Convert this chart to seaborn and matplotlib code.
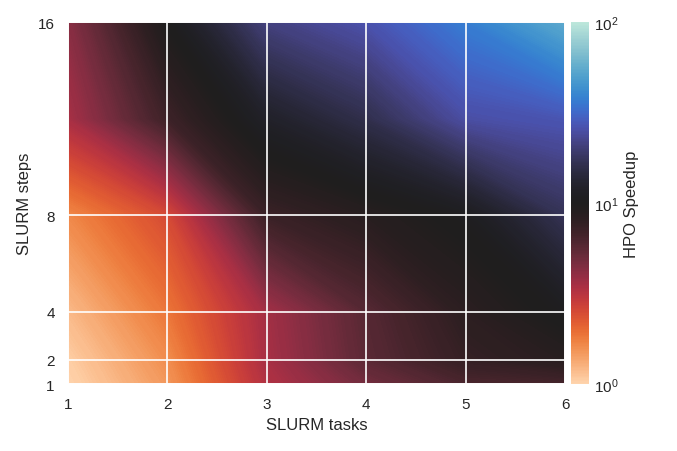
import numpy as np
import matplotlib
matplotlib.use("Agg")
import matplotlib.pyplot as plt
from matplotlib.colors import LogNorm, Normalize
import seaborn as sns

# SLURM grid and HPO speedup
tasks = [1, 2, 3, 4, 5, 6]
steps = [1, 2, 4, 8, 12, 16]
step_ticks = [1, 2, 4, 8, 16]
speedup_1 = [1.0, 1.5, 3.3, 4.8, 6.3, 6.6]
speedup_2 = [1.05, 1.6, 3.5, 5.6, 7.6, 8.7]
speedup_4 = [1.2, 1.85, 3.6, 5.8, 8.3, 10.5]
speedup_8 = [1.65, 2.5, 7.2, 8.7, 10.5, 17.0]
speedup_12 = [3.5, 7.0, 12.0, 16.0, 25.0, 27.0]
speedup_16 = [4.2, 10.0, 21.0, 26.0, 37.0, 55.0]

sns.set_theme(style="darkgrid", context="notebook")
plt.rcParams["font.family"] = ["Liberation Sans", "DejaVu Sans"]

Z = np.array([speedup_1, speedup_2, speedup_4, speedup_8, speedup_12, speedup_16])
X, Y = np.meshgrid(tasks, steps)

fig = plt.figure(figsize=(6.77, 4.52), dpi=100)
ax = fig.add_axes([0.1004, 0.1482, 0.7342, 0.8008])
cax = fig.add_axes([0.8434, 0.1482, 0.0266, 0.8008])

# shade in log space so the blend follows the log colour scale
cs = ax.contourf(X, Y, np.log10(Z), levels=np.linspace(0, 2, 300),
                 norm=Normalize(0, 2), cmap="icefire_r", antialiased=False)
ax.set_axisbelow(False)
ax.grid(True, color="white", linewidth=1.2)

ax.set_xticks(tasks)
ax.set_yticks(step_ticks)
ax.set_xlim(1, 6)
ax.set_ylim(1, 16)
ax.set_xlabel("SLURM tasks")
ax.set_ylabel("SLURM steps")

sm = plt.cm.ScalarMappable(norm=LogNorm(vmin=1, vmax=100), cmap="icefire_r")
cb = fig.colorbar(sm, cax=cax)
cb.outline.set_visible(False)
cb.set_ticks([1, 10, 100])
cb.ax.minorticks_off()
cb.ax.tick_params(length=0)
cb.set_label("HPO Speedup")

fig.savefig("out.png", dpi=100)
